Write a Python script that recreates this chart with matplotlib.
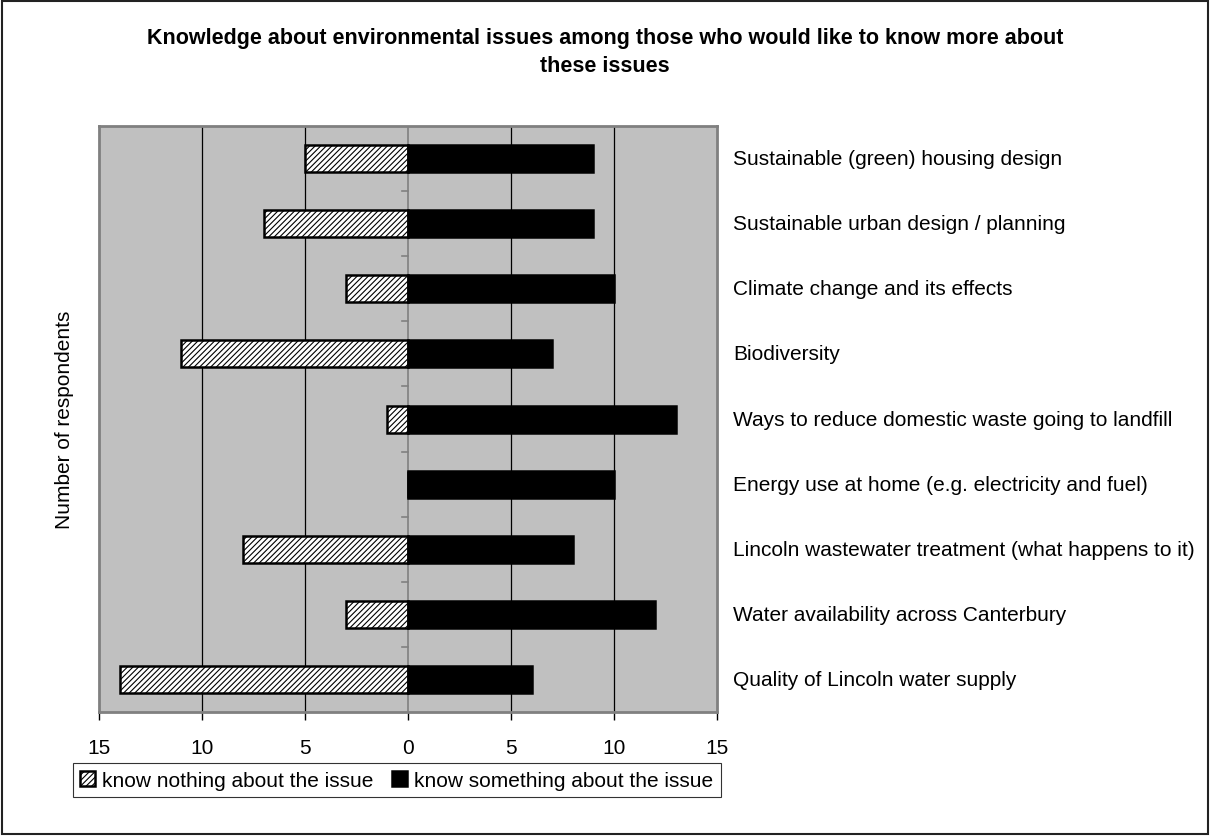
import matplotlib
matplotlib.use("Agg")
import matplotlib.pyplot as plt
from matplotlib.patches import Rectangle
import numpy as np

plt.rcParams['font.family'] = ['Liberation Sans', 'DejaVu Sans']
plt.rcParams['hatch.linewidth'] = 0.8

# bottom to top
issues = [
    "Quality of Lincoln water supply",
    "Water availability across Canterbury",
    "Lincoln wastewater treatment (what happens to it)",
    "Energy use at home (e.g. electricity and fuel)",
    "Ways to reduce domestic waste going to landfill",
    "Biodiversity",
    "Climate change and its effects",
    "Sustainable urban design / planning",
    "Sustainable (green) housing design",
]
know_nothing = [14, 3, 8, 0, 1, 11, 3, 7, 5]
know_something = [6, 12, 8, 10, 13, 7, 10, 9, 9]
xticks = [-15, -10, -5, 0, 5, 10, 15]

fs = 15

fig = plt.figure(figsize=(12.1, 8.37), dpi=100)
fig.patches.append(Rectangle((0.002, 0.002), 0.996, 0.996, transform=fig.transFigure,
                             fill=False, edgecolor='#222222', linewidth=1.5))
ax = fig.add_axes([0.0818, 0.1481, 0.5107, 0.7001])
ax.set_facecolor('#c0c0c0')

y = np.arange(len(issues))
h = 0.415
neg = -np.array(know_nothing)
ax.barh(y, neg, height=h, color='white', edgecolor='black', hatch='//////',
        linewidth=1.8, label='know nothing about the issue', zorder=3)
ax.barh(y, know_something, height=h, color='black', edgecolor='black',
        linewidth=1.8, label='know something about the issue', zorder=3)

ax.set_xlim(-15, 15)
ax.set_ylim(-0.5, len(issues) - 0.5)
ax.set_xticks(xticks)
ax.set_xticklabels([str(abs(t)) for t in xticks], fontsize=fs)
for t in [-10, -5, 5, 10]:
    ax.axvline(t, color='black', linewidth=0.9, zorder=1)
ax.axvline(0, color='#808080', linewidth=1.2, zorder=2)
# category separator ticks on the zero line
for b in np.arange(0.5, len(issues) - 0.5, 1):
    ax.plot([-0.28, 0], [b, b], color='#808080', linewidth=1.2, zorder=2)

ax.set_yticks([])
for s in ax.spines.values():
    s.set_color('#808080')
    s.set_linewidth(2)
ax.tick_params(axis='x', length=6, width=1, color='black', pad=13)

for yi, lab in zip(y, issues):
    ax.text(1.026, (yi + 0.5) / len(issues), lab, transform=ax.transAxes,
            fontsize=fs, va='center', ha='left')

fig.text(0.0537, 0.498, 'Number of respondents', rotation=90, fontsize=fs,
         va='center', ha='center')
fig.text(0.5, 0.9375, 'Knowledge about environmental issues among those who would like to know more about\nthese issues',
         fontsize=15.5, fontweight='bold', ha='center', va='center', linespacing=1.45)

leg = fig.legend(loc='center left', bbox_to_anchor=(0.0603, 0.0669), ncol=2, fontsize=fs,
                 frameon=True, fancybox=False, edgecolor='black', handlelength=0.7,
                 handleheight=0.7, handletextpad=0.35, columnspacing=0.9,
                 borderpad=0.35, borderaxespad=0)
leg.get_frame().set_linewidth(0.8)

fig.savefig('out.png', dpi=100)
